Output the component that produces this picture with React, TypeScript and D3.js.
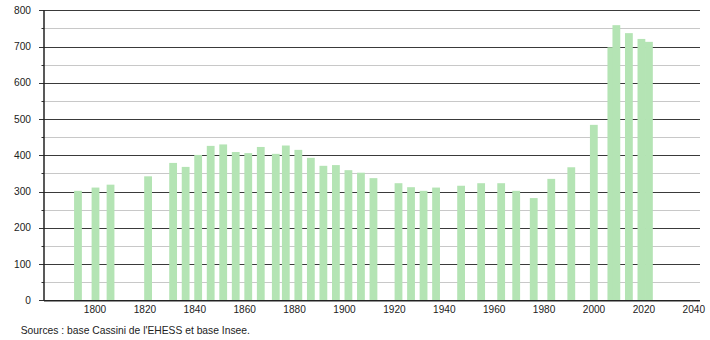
import React from "react";
import * as d3 from "d3";

const years = [1793, 1800, 1806, 1821, 1831, 1836, 1841, 1846, 1851, 1856, 1861, 1866, 1872, 1876, 1881, 1886, 1891, 1896, 1901, 1906, 1911, 1921, 1926, 1931, 1936, 1946, 1954, 1962, 1968, 1975, 1982, 1990, 1999, 2006, 2008, 2013, 2018, 2021];
const population = [302, 311, 319, 342, 379, 368, 401, 426, 430, 409, 406, 423, 404, 427, 415, 393, 371, 373, 359, 352, 337, 323, 312, 302, 311, 316, 323, 323, 302, 282, 335, 367, 484, 698, 759, 737, 721, 713];
const xTicks = [1800, 1820, 1840, 1860, 1880, 1900, 1920, 1940, 1960, 1980, 2000, 2020, 2040];
const yMajor = [0, 100, 200, 300, 400, 500, 600, 700, 800];
const yMinor = [50, 150, 250, 350, 450, 550, 650, 750];
const sourceText = "Sources : base Cassini de l'EHESS et base Insee.";

const W = 710;
const H = 340;
const left = 44;
const right = 700;
const top = 10.3;
const bottom = 300.3;

export default function App() {
  const xBars = d3.scaleLinear().domain([1800, 2040]).range([95.5, 696.5]);
  const xAxis = d3.scaleLinear().domain([1800, 2040]).range([95, 693.8]);
  const y = d3.scaleLinear().domain([0, 800]).range([bottom, top]);
  const barW = 7.8;
  const font = "'Liberation Sans', Arial, sans-serif";
  return (
    <svg width={W} height={H} style={{ position: "absolute", left: 0, top: 0, background: "#fff" }} fontFamily={font}>
      {yMinor.map((v) => (
        <g key={"mn" + v}>
          <line x1={left} x2={right} y1={Math.round(y(v)) + 0.5} y2={Math.round(y(v)) + 0.5} stroke="#c8c8c8" strokeWidth={1} />
          <line x1={41.5} x2={left} y1={Math.round(y(v)) + 0.5} y2={Math.round(y(v)) + 0.5} stroke="#333" strokeWidth={1} />
        </g>
      ))}
      {yMajor.map((v) => (
        <g key={"mj" + v}>
          <line x1={left} x2={right} y1={Math.round(y(v)) + 0.5} y2={Math.round(y(v)) + 0.5} stroke="#3a3a3a" strokeWidth={1} />
          <line x1={39} x2={left} y1={Math.round(y(v)) + 0.5} y2={Math.round(y(v)) + 0.5} stroke="#333" strokeWidth={1} />
          <text x={31} y={y(v)} dy="0.36em" textAnchor="end" fontSize={10.2} fill="#222">{v}</text>
        </g>
      ))}
      {years.map((yr, i) => (
        <rect key={yr} x={xBars(yr) - barW / 2} y={y(population[i])} width={barW} height={bottom - y(population[i])} fill="#b4e4b4" />
      ))}
      <line x1={left} x2={left} y1={top} y2={bottom + 0.5} stroke="#222" strokeWidth={1.5} />
      <line x1={left} x2={right} y1={bottom + 0.5} y2={bottom + 0.5} stroke="#222" strokeWidth={1.5} />
      {xTicks.map((t) => (
        <text key={t} x={xAxis(t)} y={312.8} textAnchor="middle" fontSize={10.1} fill="#222">{t}</text>
      ))}
      <text x={20.7} y={333.8} fontSize={10.3} fill="#222">{sourceText}</text>
    </svg>
  );
}
